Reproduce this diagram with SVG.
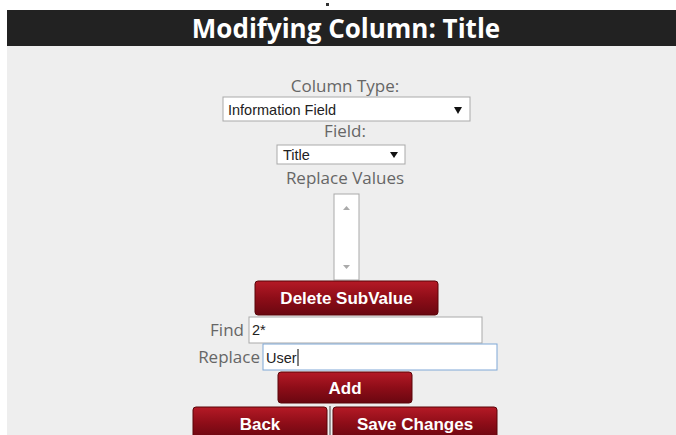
<svg xmlns="http://www.w3.org/2000/svg" width="676" height="435" viewBox="0 0 676 435">
<defs>
<linearGradient id="btn" x1="0" y1="0" x2="0" y2="1">
<stop offset="0" stop-color="#b51a26"/>
<stop offset="0.5" stop-color="#8e0d18"/>
<stop offset="1" stop-color="#6a0710"/>
</linearGradient>
</defs>
<style>
.lbl{font-family:"Open Sans","Noto Sans",sans-serif;font-size:17px;fill:#666}
.inp{font-family:"Liberation Sans",Arial,sans-serif;font-size:14.5px;fill:#222}
.box{fill:#fff;stroke:#a9a9a9;stroke-width:1}
.btn{fill:url(#btn);stroke:#5a0509;stroke-width:1}
.bt{font-family:"Liberation Sans",Arial,sans-serif;font-size:17px;font-weight:bold;fill:#fff;text-anchor:middle}
.arr{fill:#111}
</style>
<rect x="0" y="0" width="676" height="435" fill="#ffffff"/>
<rect x="7" y="46" width="669" height="389" fill="#eeeeee"/>
<rect x="326" y="3" width="3" height="3" fill="#333"/>
<g id="header">
<rect x="7" y="10" width="669" height="36" fill="#222222"/>
<text x="346" y="38" text-anchor="middle" font-family="'Open Sans','Noto Sans',sans-serif" font-size="26" font-weight="bold" fill="#ffffff">Modifying Column: Title</text>
</g>
<g id="column-type">
<text x="345" y="92" class="lbl" text-anchor="middle">Column Type:</text>
<rect x="223" y="97" width="247" height="24" class="box"/>
<text x="228" y="115" class="inp">Information Field</text>
<path d="M454 107 L462 107 L458 114 Z" class="arr"/>
</g>
<g id="field">
<text x="345" y="137" class="lbl" text-anchor="middle">Field:</text>
<rect x="277" y="145" width="128" height="19" class="box"/>
<text x="283" y="160" class="inp">Title</text>
<path d="M390 152 L398 152 L394 158 Z" class="arr"/>
</g>
<g id="replace-values">
<text x="345" y="184" class="lbl" text-anchor="middle">Replace Values</text>
<rect x="334" y="194" width="25" height="86" class="box"/>
<path d="M343 210 L350 210 L346.5 206 Z" fill="#aaa"/>
<path d="M343 265 L350 265 L346.5 269 Z" fill="#aaa"/>
</g>
<g id="delete-subvalue">
<rect x="255" y="281" width="183" height="34" rx="3" class="btn"/>
<text x="346.5" y="304" class="bt">Delete SubValue</text>
</g>
<g id="find">
<text x="244" y="336" class="lbl" text-anchor="end">Find</text>
<rect x="249" y="317" width="233" height="26" class="box"/>
<text x="252" y="335" class="inp">2*</text>
</g>
<g id="replace">
<text x="260" y="363" class="lbl" text-anchor="end">Replace</text>
<rect x="263" y="344" width="234" height="26" fill="#fff" stroke="#7fa7d6" stroke-width="1"/>
<text x="266" y="363" class="inp">User</text>
<line x1="298" y1="349" x2="298" y2="366" stroke="#000" stroke-width="1"/>
</g>
<g id="add">
<rect x="278" y="372" width="134" height="31" rx="3" class="btn"/>
<text x="345" y="394" class="bt">Add</text>
</g>
<g id="back">
<rect x="193" y="407" width="134" height="32" rx="3" class="btn"/>
<text x="260" y="430" class="bt">Back</text>
</g>
<rect x="329" y="406" width="2" height="29" fill="#999"/>
<g id="save-changes">
<rect x="333" y="407" width="164" height="32" rx="3" class="btn"/>
<text x="415" y="430" class="bt">Save Changes</text>
</g>
<g id="connectors"></g>
</svg>
